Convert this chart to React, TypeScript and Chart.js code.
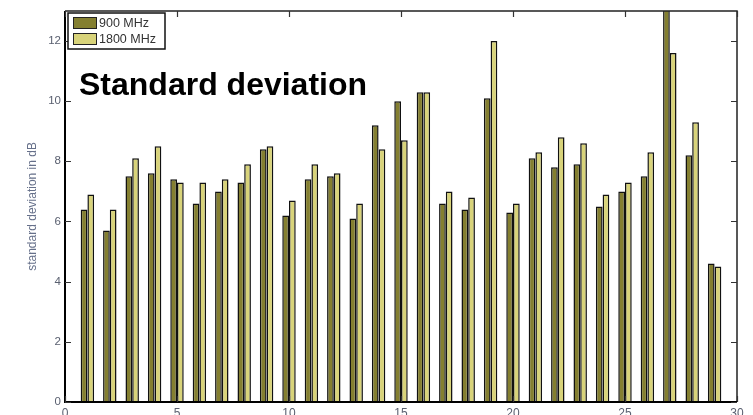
import React, { useEffect, useRef } from "react";
import { Chart, registerables } from "chart.js";

Chart.register(...registerables);

const positions = [1, 2, 3, 4, 5, 6, 7, 8, 9, 10, 11, 12, 13, 14, 15, 16, 17, 18, 19, 20, 21, 22, 23, 24, 25, 26, 27, 28, 29];
const std900 = [6.4, 5.7, 7.5, 7.6, 7.4, 6.6, 7.0, 7.3, 8.4, 6.2, 7.4, 7.5, 6.1, 9.2, 10.0, 10.3, 6.6, 6.4, 10.1, 6.3, 8.1, 7.8, 7.9, 6.5, 7.0, 7.5, 14.0, 8.2, 4.6];
const std1800 = [6.9, 6.4, 8.1, 8.5, 7.3, 7.3, 7.4, 7.9, 8.5, 6.7, 7.9, 7.6, 6.6, 8.4, 8.7, 10.3, 7.0, 6.8, 12.0, 6.6, 8.3, 8.8, 8.6, 6.9, 7.3, 8.3, 11.6, 9.3, 4.5];
const seriesLabels = ["900 MHz", "1800 MHz"];
const xTicks = [0, 5, 10, 15, 20, 25, 30];
const yTicks = [0, 2, 4, 6, 8, 10, 12];
const chartTitle = "Standard deviation";
const yAxisTitle = "standard deviation in dB";

const COLOR_900 = "#847f30";
const COLOR_1800 = "#d8d37a";

const overlayPlugin = {
  id: "matlabOverlay",
  afterDraw(chart: any) {
    const ctx = chart.ctx;
    const { left, right, top, bottom } = chart.chartArea;
    const xs = chart.scales.x;
    const ys = chart.scales.y;
    ctx.save();
    // box
    ctx.strokeStyle = "#222";
    ctx.lineWidth = 1.5;
    ctx.beginPath();
    ctx.moveTo(left, top);
    ctx.lineTo(right, top);
    ctx.lineTo(right, bottom);
    ctx.stroke();
    ctx.strokeStyle = "#000";
    ctx.lineWidth = 2;
    ctx.beginPath();
    ctx.moveTo(left, top);
    ctx.lineTo(left, bottom);
    ctx.lineTo(right, bottom);
    ctx.stroke();
    // inner ticks
    ctx.lineWidth = 1.2;
    ctx.strokeStyle = "#333";
    ctx.beginPath();
    yTicks.forEach((v) => {
      const y = Math.round(ys.getPixelForValue(v)) + 0.5;
      ctx.moveTo(left, y);
      ctx.lineTo(left + 6, y);
      ctx.moveTo(right, y);
      ctx.lineTo(right - 6, y);
    });
    xTicks.forEach((v) => {
      const x = Math.round(xs.getPixelForValue(v)) + 0.5;
      ctx.moveTo(x, bottom);
      ctx.lineTo(x, bottom - 6);
      ctx.moveTo(x, top);
      ctx.lineTo(x, top + 6);
    });
    ctx.stroke();

    // legend
    const lx = 68, ly = 13, lw = 97, lh = 36;
    ctx.fillStyle = "#fff";
    ctx.fillRect(lx, ly, lw, lh);
    ctx.strokeStyle = "#111";
    ctx.lineWidth = 1.5;
    ctx.strokeRect(lx, ly, lw, lh);
    const sw = [COLOR_900, COLOR_1800];
    chart.data.datasets.forEach((ds: any, i: number) => {
      const sy = ly + 4 + i * 16;
      ctx.fillStyle = sw[i];
      ctx.fillRect(lx + 5, sy, 24, 12);
      ctx.strokeStyle = "#222";
      ctx.lineWidth = 1;
      ctx.strokeRect(lx + 5.5, sy + 0.5, 23, 11);
      ctx.fillStyle = "#333";
      ctx.font = "12.5px 'Liberation Sans', Arial, sans-serif";
      ctx.textBaseline = "middle";
      ctx.textAlign = "left";
      ctx.fillText(ds.label, lx + 31, sy + 6.5);
    });

    // title inside plot
    ctx.fillStyle = "#000";
    ctx.font = "bold 32px 'Liberation Sans', Arial, sans-serif";
    ctx.textBaseline = "alphabetic";
    ctx.textAlign = "left";
    ctx.fillText(chartTitle, 79, 95);

    // y axis title
    ctx.save();
    ctx.translate(33, (top + bottom) / 2);
    ctx.rotate(-Math.PI / 2);
    ctx.fillStyle = "#66708a";
    ctx.font = "12px 'Liberation Sans', Arial, sans-serif";
    ctx.textAlign = "center";
    ctx.textBaseline = "middle";
    ctx.fillText(yAxisTitle, 0, 0);
    ctx.restore();

    ctx.restore();
  },
};

export default function App() {
  const ref = useRef<HTMLCanvasElement>(null);
  useEffect(() => {
    document.body.style.margin = "0";
    const canvas = ref.current;
    if (!canvas) return;
    const chart = new Chart(canvas, {
      type: "bar",
      data: {
        datasets: [
          {
            label: seriesLabels[0],
            data: positions.map((x, i) => ({ x, y: std900[i] })),
            backgroundColor: COLOR_900,
            borderColor: "#111",
            borderWidth: 1.5,
          },
          {
            label: seriesLabels[1],
            data: positions.map((x, i) => ({ x, y: std1800[i] })),
            backgroundColor: COLOR_1800,
            borderColor: "#111",
            borderWidth: 1.5,
          },
        ],
      },
      options: {
        responsive: false,
        animation: false,
        devicePixelRatio: 1,
        categoryPercentage: 0.6,
        barPercentage: 1.0,
        layout: { padding: { left: 0, right: 16, top: 10, bottom: 0 } },
        plugins: {
          legend: { display: false },
          tooltip: { enabled: false },
        },
        scales: {
          x: {
            type: "linear",
            min: 0,
            max: 30,
            offset: false,
            grid: { display: false, drawTicks: false },
            border: { display: false },
            afterBuildTicks: (s: any) => {
              s.ticks = xTicks.map((v) => ({ value: v }));
            },
            afterFit: (s: any) => {
              s.height = 13;
            },
            ticks: {
              padding: 4,
              maxRotation: 0,
              autoSkip: false,
              color: "#5a6070",
              font: { family: "'Liberation Sans', Arial, sans-serif", size: 12 },
            },
          },
          y: {
            min: 0,
            max: 13,
            grid: { display: false, drawTicks: false },
            border: { display: false },
            afterBuildTicks: (s: any) => {
              s.ticks = yTicks.map((v) => ({ value: v }));
            },
            afterFit: (s: any) => {
              s.width = 65;
            },
            ticks: {
              padding: 4,
              color: "#5a6070",
              font: { family: "'Liberation Sans', Arial, sans-serif", size: 11.5 },
            },
          },
        },
      },
      plugins: [overlayPlugin],
    });
    return () => chart.destroy();
  }, []);
  return (
    <div style={{ width: 753, height: 415, position: "relative" }}>
      <canvas ref={ref} width={753} height={415} />
    </div>
  );
}
